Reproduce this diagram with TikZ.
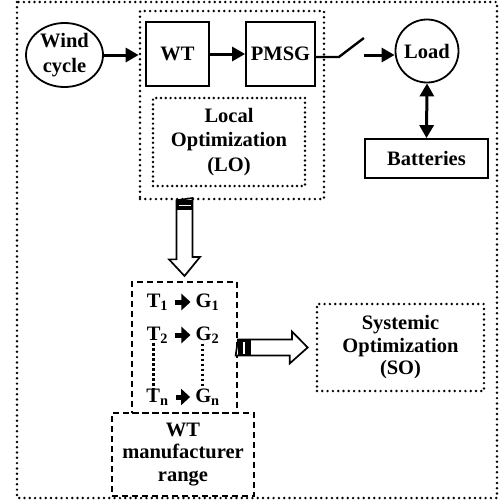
\documentclass[tikz,border=0pt]{standalone}
\usepackage{fontspec}
\setmainfont{Liberation Serif}
\usetikzlibrary{arrows.meta,shapes.geometric,calc}
\newcommand{\lbfont}{\fontsize{20.5}{24.5}\selectfont\bfseries}
\newcommand{\lbfontb}{\fontsize{20.5}{22.5}\selectfont\bfseries}

\begin{document}
\begin{tikzpicture}[x=1pt, y=-1pt,
  box/.style={draw, line width=1.8pt, inner sep=0pt, font=\lbfont, align=center},
  dotbox/.style={draw, line width=2.7pt, dash pattern=on 0pt off 5.3pt, line cap=round},
  dashbox/.style={draw, line width=2pt, dash pattern=on 6pt off 4pt},
  txt/.style={font=\lbfont, align=center, inner sep=0pt},
  flow/.style={line width=3pt, -{Triangle[length=13pt,width=14pt]}},
  tgarrow/.style={line width=5pt, -{Triangle[length=9pt,width=16pt]}, shorten <=7pt, shorten >=5pt},
  hollow/.style={draw, line width=1.7pt, fill=white, line join=miter},
  vdots/.style={line width=3pt, dash pattern=on 2.6pt off 2.4pt}]
\useasboundingbox (0,0) rectangle (501,504);
% system frame
\draw[dotbox] (17,2) rectangle (497,498);

% local part
\node[dotbox, minimum width=184pt, minimum height=188pt] (lobox) at (232,105) {};
\node[box, ellipse, minimum width=77pt, minimum height=64pt] (wind) at (64.5,55) {Wind\\cycle};
\node[box, minimum width=63pt, minimum height=64pt] (wt) at (177.5,54) {WT};
\node[box, minimum width=69pt, minimum height=64pt] (pmsg) at (280.5,54) {PMSG};
\node[dotbox, txt, dash pattern=on 0pt off 4.8pt, minimum width=152pt, minimum height=88pt] (lo) at (229,142) {Local\\Optimization\\(LO)};
\node[box, circle, minimum size=63pt] (load) at (427,51) {Load};
\node[box, minimum width=123pt, minimum height=39pt] (bat) at (426.5,158.5) {Batteries};

\draw[flow] (wind.east) -- (wind.east -| lobox.west);
\draw[flow] (wt.east) -- (pmsg.west);
% switch
\draw[line width=2.4pt] ([yshift=-3pt]pmsg.east) -- ++(23,0) -- ++(25,-19) coordinate (sw);
\coordinate (swa) at ($(sw)+(0,17)$);
\draw[flow] (swa) -- (swa -| load.west);
\draw[line width=3pt, {Triangle[length=13pt,width=14pt]}-{Triangle[length=13pt,width=14pt]}] (load.south) -- (bat.north);

% turbine / generator pairs
\node[dashbox, minimum width=105pt, minimum height=131pt] (tg) at (184.5,347.5) {};
\foreach \i/\y in {1/302, 2/335, n/397}
{
    \node[txt] (t\i) at (157.5,\y) {T\textsubscript{\i}};
    \node[txt] (g\i) at (207.5,\y) {G\textsubscript{\i}};
    \draw[tgarrow] (t\i) -- (g\i);
}
\draw[vdots] ([xshift=-4.5pt]t2.south) -- ([xshift=-4.5pt]tn.north);
\draw[vdots] ([xshift=-5.5pt]g2.south) -- ([xshift=-5.5pt]gn.north);
\node[dashbox, txt, font=\lbfontb, minimum width=142pt, minimum height=83pt] (wtr) at (183,454.5) {WT\\manufacturer\\range};
\node[dotbox, txt, font=\lbfontb, minimum width=167pt, minimum height=87pt] (so) at (400.5,347.5) {Systemic\\Optimization\\(SO)};

% hollow arrows
\coordinate (d0) at (tg.north |- lobox.south);
\draw[hollow] ($(d0)+(-8,0)$) -- ++(0,59) -- ++(-7.5,0) -- ($(tg.north)+(0,-5)$) -- ++(15.5,-19) -- ++(-7.5,0) -- ++(0,-59) -- cycle;
\fill ($(d0)+(-8,0)$) rectangle ++(16,10);
\draw[white, line width=1.2pt] ($(d0)+(-6,5)$) -- ++(12,0);
\coordinate (r0) at (tg.east);
\draw[hollow] ($(r0)+(0,-8)$) -- ++(54,0) -- ++(0,-8) -- ($(so.west)+(-8,0)$) -- ++(-18,16) -- ++(0,-8) -- ++(-54,0) -- cycle;
\fill ($(r0)+(0,-8)$) rectangle ++(13,16);
\draw[white, line width=1.2pt] ($(r0)+(6,-6)$) -- ++(0,12);
\end{tikzpicture}
\end{document}
